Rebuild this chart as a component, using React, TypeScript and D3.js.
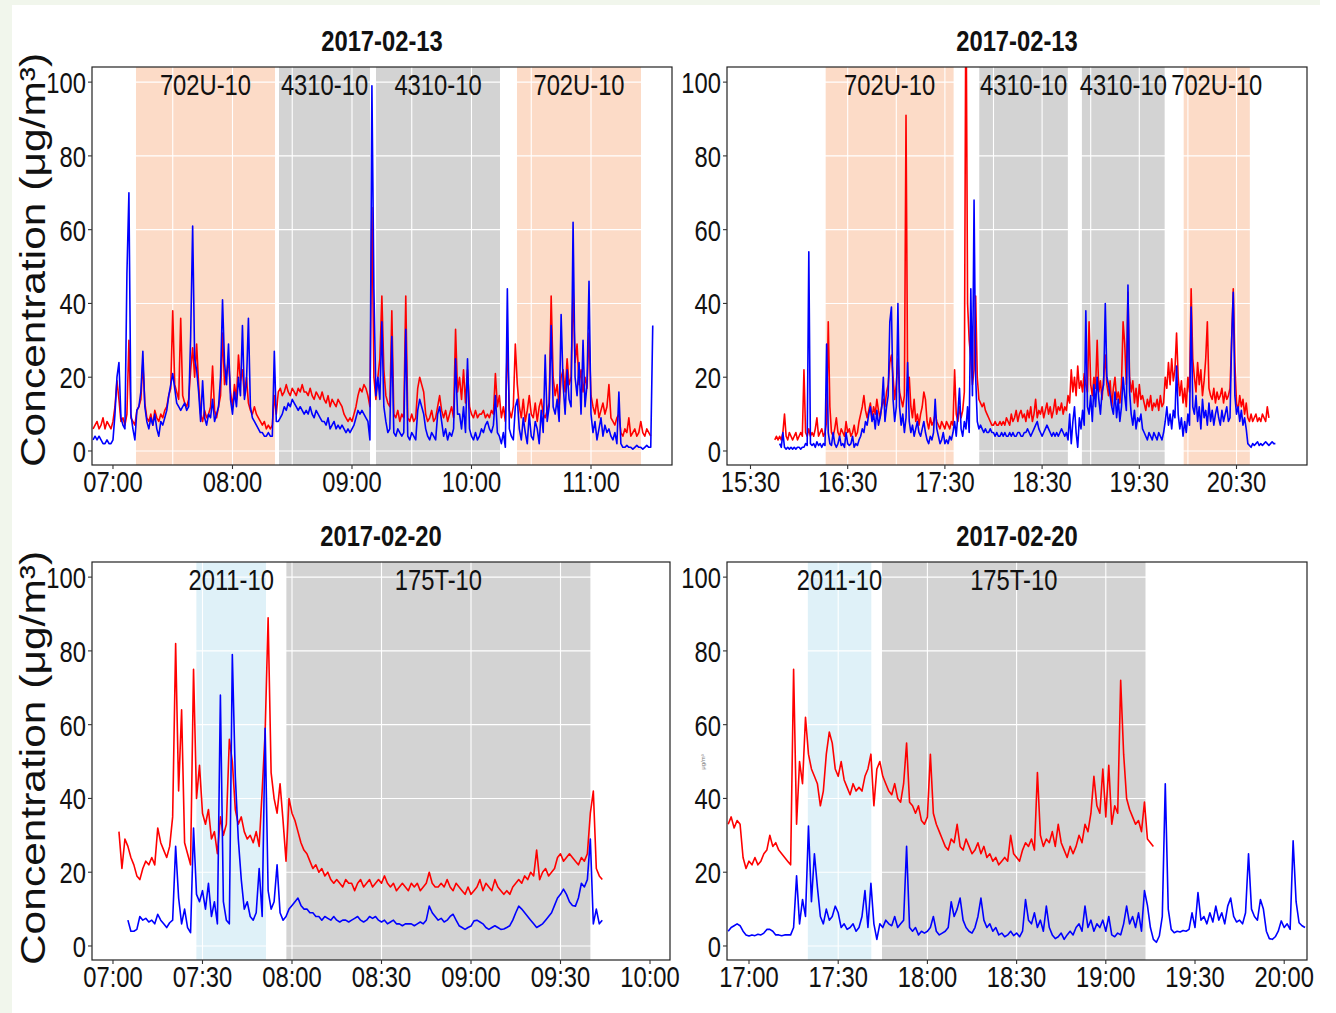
import React from "react";
import * as d3 from "d3";

// ---------------------------------------------------------------------------
// 1-minute concentrations (µg/m³), red = first monitor, blue = second monitor
// ---------------------------------------------------------------------------

// 2017-02-13 morning
const tlRedStart = "06:50";
const tlRed = [
  6, 7, 8, 6, 7, 9, 6, 8, 7, 6, 8,
  12, 19, 14, 8, 9, 7,
  10, 30, 9, 8, 7,
  11, 12, 14, 24, 13,
  9, 8, 10, 7, 11, 9, 8, 10, 9, 11,
  12, 15, 17, 38, 18, 16,
  14, 36, 15, 13, 12, 14,
  22, 28, 20, 29, 18,
  10, 8, 11, 9,
  10, 12, 23, 11, 9, 12, 15,
  32, 18, 21, 25,
  16, 12, 18, 14, 26, 19, 22, 15, 20,
  13, 11, 10, 12,
  10, 9, 8, 7, 8, 6, 7, 6, 7,
  15, 10,
  16, 17, 15, 16, 18, 16, 15, 17, 16, 15, 17, 16, 18, 16,
  16, 15, 17, 15, 14, 16, 15, 14, 16,
  14, 13, 15, 12, 14, 13, 12, 14, 13, 12,
  10, 9, 8, 9, 8, 10,
  12, 15, 17, 16, 18, 17, 15,
  12, 66, 20,
  14, 20, 25, 42, 22, 15,
  13, 12, 38,
  10, 9, 11, 8, 10, 9, 42,
  9, 8, 10, 8, 9,
  17, 20, 18, 16,
  10, 8, 9, 11, 8, 9,
  12, 15, 11,
  9, 11, 8, 10, 12, 9,
  33, 16,
  20, 14, 22, 13,
  22, 12,
  10, 9, 11, 9, 10,
  10, 11, 9, 10, 9, 11, 10,
  21, 12,
  15, 9, 12, 8,
  30, 11, 9, 12,
  29, 18,
  12, 9, 14, 8, 11, 15, 10, 9, 13, 8, 12, 14, 10, 9, 11, 13,
  42, 20,
  15, 18, 12, 20,
  22, 16, 25, 18, 20,
  44, 24,
  29, 18, 22, 16, 20, 17,
  32, 15,
  12, 10, 14, 9, 11, 13, 10, 12,
  18, 9,
  8, 7, 9, 10,
  5, 4, 6, 5, 9, 4, 5, 6, 4, 5, 8, 5, 4, 6, 5,
  4,
];
const tlBlueStart = "06:50";
const tlBlue = [
  3, 4, 3, 4, 3, 2, 2, 3, 2, 2, 3,
  10, 20, 24, 9, 7, 6,
  48, 70, 10, 6, 3,
  11, 12, 16, 27, 12,
  8, 6, 9, 7, 10, 6, 4, 8, 7, 9,
  11, 15, 18, 21, 17, 13,
  12, 11, 12, 13, 11, 12,
  31, 61, 25, 22, 16,
  8, 19, 9, 7,
  10, 9, 14, 8, 10, 12, 20,
  41, 24, 18, 29, 14, 10, 16, 12, 20, 15, 34, 14, 18, 36, 12,
  9, 8, 7, 6, 5, 5, 4, 4, 5, 4, 4,
  27, 8,
  8, 9, 10, 12, 11, 13, 12, 14, 13, 12, 11, 12, 11, 10,
  11, 10, 12, 10, 9, 11, 10, 9, 8,
  8, 7, 9, 6, 7, 8, 6, 7, 6, 7,
  6, 5, 6, 5, 6, 7,
  9, 11, 10, 11, 10, 9, 8,
  3, 99, 44,
  15, 20, 14, 35, 12, 8,
  5, 6, 31,
  5, 4, 6, 5, 4, 5, 33,
  4, 3, 5, 4, 3,
  11, 14, 12, 10,
  6, 4, 3, 5, 4, 3,
  10, 12, 8,
  4, 6, 3, 5, 4, 6,
  25, 10,
  10, 6, 12, 5,
  25, 6,
  4, 3, 5, 3, 4,
  6, 5, 7, 8, 6, 5, 7,
  15, 5,
  4, 2, 5, 1,
  44, 6, 4, 3,
  12, 14,
  6, 3, 9, 5, 2, 10, 4, 3, 8, 6, 2, 11, 5, 26, 8, 12,
  34, 12,
  10, 14, 8, 37,
  18, 10, 22, 14, 12,
  62, 20,
  15, 24, 10, 30, 12, 18,
  46, 10,
  5, 8, 3, 6, 9, 4, 7, 5,
  6, 4,
  3, 5, 2, 16,
  2, 1, 1, 1.5, 1, 1, 0.5, 1, 1.5, 1, 1, 0.5, 1, 1.5, 1,
  1, 34,
];

// 2017-02-13 afternoon / evening
const trRedStart = "15:45";
const trRed = [
  3, 4, 3,
  4, 3, 5, 10, 4, 3, 5, 4, 3, 4, 5, 3, 4, 5, 4,
  22,
  5, 4, 6, 4,
  5, 4, 6, 9, 4, 5, 6, 4, 5,
  8, 35, 12,
  5, 4, 6, 9, 5, 4, 6, 5, 4, 8, 5, 6, 4, 5, 7, 4, 5,
  8, 10, 12, 15, 11, 9,
  11, 13, 9, 12, 10, 14, 11, 9, 12,
  14, 12, 16,
  18, 24, 26, 20, 14, 18, 25, 16, 14, 12, 15,
  91, 18, 20,
  12, 9, 14, 8, 10, 7,
  10, 12, 16, 14,
  8, 6, 9, 7, 8, 10, 8,
  7, 6, 8, 7, 6, 8, 7, 6, 8, 7,
  22, 10,
  8, 12, 9, 11,
  16, 130, 40, 30, 25, 18, 22, 42, 20,
  14, 13, 12, 13, 11, 10, 9, 8, 7,
  7, 8, 7, 7, 8, 7, 8, 7, 9, 8, 7, 10, 8, 9, 11, 8, 10, 11,
  9, 10, 8, 11, 9, 12, 8, 10, 14, 9, 11, 10, 12, 9, 11, 13, 10, 12, 9, 11, 14, 10, 12, 11, 13, 10, 12, 11,
  15, 13,
  22, 16, 20, 15, 23, 17, 19, 16, 21,
  18,
  16, 35, 18, 15, 20, 17, 30, 16, 19, 14, 20,
  26, 18,
  15, 19, 12, 17, 20, 14, 16, 13, 18,
  35, 29, 18, 43, 20,
  16, 19, 13, 17, 12, 18, 14, 15,
  13, 11, 14, 12, 15, 11, 13, 12, 14, 11, 15, 12, 13,
  20, 17, 24, 18, 25, 19, 22,
  32, 20,
  15, 19, 13, 17, 12, 20, 16,
  44, 25,
  20, 16, 24, 18, 22, 15, 19, 25, 35, 17,
  15, 14, 17, 13, 16, 14, 15, 17, 13, 16, 14, 15, 17,
  30, 44, 24,
  13, 11, 15, 12, 14, 10, 13,
  9, 8, 10, 8, 9, 10, 8, 9, 8, 10, 9, 8, 12, 9,
];
const trBlueStart = "15:48";
const trBlue = [
  2, 1, 5, 1, 0.5, 1, 0.5, 1, 0.5, 1, 0.5, 1, 1, 0.5, 1,
  1, 2, 1.5, 54, 2,
  1.5, 2, 1, 2.5, 1.5, 2, 1, 2, 1.5,
  29, 5,
  2, 1.5, 5, 2, 1, 2, 4, 1.5, 2, 1, 5, 2, 1.5, 2, 4, 1, 2, 1.5, 3,
  4, 6, 5, 8, 7, 10,
  12, 8, 10, 6, 11, 7, 9, 12,
  20, 8,
  12, 15, 35, 39, 14,
  8, 12,
  40, 12,
  7, 10, 5, 9,
  24, 8,
  5, 7, 4, 6, 8, 5, 4, 6,
  8, 5,
  3, 2, 4, 3, 5,
  14, 6,
  4, 2, 3, 5, 2, 3, 2, 4, 3, 5,
  8, 4,
  10, 17, 6,
  4, 8, 6, 12, 5,
  44, 15, 68, 20, 8,
  6, 7, 6, 5, 6, 5, 5, 6, 5,
  5, 4, 5, 4, 4, 5, 4, 5, 4, 4, 5, 4, 5, 4, 4, 5, 5, 4,
  4, 5, 5, 6, 5, 4, 5, 6, 7, 8, 6, 5, 4, 5, 6, 7, 6, 5, 4, 5, 4, 5, 4, 5, 6, 5, 4, 5,
  3, 10, 2, 8, 12, 5, 1, 9, 6, 11, 7,
  38, 12,
  10, 15, 8, 18, 12, 20, 14, 10, 16, 18,
  40, 20,
  18, 15, 12, 10, 16, 9, 14, 8, 12, 20, 15, 11,
  45, 16,
  10, 7, 11, 6, 9, 8, 10, 6,
  5, 4, 3, 5, 4, 3, 5, 4, 3, 5, 4, 3, 5,
  8, 12, 7, 10, 6, 11, 9,
  23, 10,
  6, 9, 4, 8, 5, 10, 7,
  39, 12,
  10, 15, 8, 12, 6, 14, 9, 11, 7, 13,
  8, 11, 7, 10, 12, 9, 7, 11, 8, 10, 12, 8, 9,
  30, 43, 15,
  10, 12, 8, 11, 7, 9, 6,
  2, 1.5, 1, 2, 1.5, 2, 2.5, 1.5, 2, 1.5, 2, 2.5, 2, 1.5, 2, 2.5, 2, 2,
];

// 2017-02-20 morning
const blRedStart = "07:02";
const blRed = [
  31, 21, 29, 27, 24, 22, 19, 18, 21, 23, 22, 24, 22, 32, 28, 26, 24, 27, 35,
  82, 42, 64, 28, 25, 22, 75, 40, 49, 36,
  33, 37, 29, 31, 25, 35, 30, 33, 56, 50, 37, 33, 35, 31, 29, 30, 28, 31, 27,
  42, 58, 89, 47, 40, 36, 44, 34, 23, 40, 36, 34, 31, 28, 26, 25, 23, 21, 22, 20, 21, 19, 20, 18,
  17, 18, 17, 16, 18, 17, 17, 15, 17, 18, 16, 17, 18, 16, 17, 18, 17, 19,
  17, 16, 17, 15, 16, 17, 16, 15, 17, 16, 17, 15, 16,
  17, 20, 17, 16,
  16, 17, 16, 18, 16, 15, 17, 16,
  15, 14, 16, 14, 15,
  16, 18, 15, 17, 16, 15, 18, 16,
  15, 14, 15, 14,
  16, 17, 18, 17, 19, 18, 20, 19,
  26, 18,
  20, 21, 19, 20, 21,
  24, 25, 23, 24, 25, 24, 23,
  22, 24, 23, 25,
  36, 42, 21, 19, 18,
];
const blBlueStart = "07:05";
const blBlue = [
  7, 4, 4, 4.5, 8, 7, 7.5, 6.5, 7, 6, 8.6, 7, 6, 5, 6.3, 7,
  27, 13, 6, 10, 5, 3.6, 32, 14, 12, 15, 10, 17, 8, 12, 6,
  68, 12, 7, 6, 79, 46, 29, 18, 10, 12, 8, 7, 9, 21, 8,
  59, 15, 10, 12, 22, 9, 7, 8, 10, 11, 12, 13, 11, 10, 10, 9, 9, 8, 8,
  7, 8, 7.5, 7, 8, 7, 6.5, 7, 7, 6.5,
  7, 7.5, 8, 7, 6.5, 7, 8, 7.5, 8,
  7, 6.5, 7, 6, 6.5, 7, 6, 6, 5.5, 6, 6,
  6, 5.5, 6, 6.5, 6, 7,
  10.8, 9,
  8, 7, 7.5, 6.5, 7, 8, 8.6, 7,
  5.5, 5, 4.5, 5, 5.4,
  6.8, 7, 6.5, 6,
  5, 4.5, 5, 5.5,
  5, 4.5, 4.6, 5, 5.5,
  7, 9, 10.8, 10,
  9, 8, 7, 6, 5, 5.5,
  6, 7, 8, 9,
  11, 13, 14, 15.4,
  14, 12, 11, 10.8,
  13, 17, 16, 18,
  29, 6, 10, 6, 7,
];

// 2017-02-20 afternoon / evening
const brRedStart = "16:53";
const brRed = [
  33, 35, 32, 34, 33,
  24, 21, 23, 22, 24, 22, 23, 25, 26, 30, 27, 28, 26, 25, 24, 23, 22,
  75, 33, 50, 44, 62, 52, 48, 46, 44, 38, 42, 52, 58, 55, 48, 46,
  50, 45, 43, 41, 44, 42, 43, 42, 46, 48, 52, 38, 48, 50, 46, 44, 42, 41, 44, 40,
  39, 44, 55, 39, 38, 36, 38, 34, 33, 35, 52, 36, 33, 31, 29, 27, 26, 29, 28, 33,
  27, 26, 29, 27, 25, 26, 28, 25, 27, 24, 25, 23, 24, 22, 23, 24, 23, 30, 25, 24,
  23, 26, 28, 27, 29, 26, 47, 30, 27, 29, 28, 31, 27, 33, 28, 26, 24, 27, 25, 27,
  30, 28, 33, 31, 36, 46, 38, 36, 48, 35, 49, 33, 38, 36, 72, 52, 40, 37, 35, 33, 34, 31, 39, 29, 28, 27,
];
const brBlueStart = "16:53";
const brBlue = [
  4, 5, 5.5, 6, 5.5, 4, 3,
  2.7, 3, 2.8, 3.2, 3, 3.5, 4.5, 4.5, 4, 3, 3, 2.8, 3, 3, 3,
  5, 19, 6, 12.6, 8, 32.5, 12, 25, 16, 8, 6, 10, 7, 8, 10.8, 9, 5, 6, 4.5, 5, 6, 4, 5, 8, 15, 5,
  17, 6, 1.8, 6, 5, 7, 6, 5.5, 8, 5, 6, 7, 27, 5, 4, 5, 3, 4, 3.5, 4, 5, 8, 4, 3, 3.5, 4, 5, 12, 8, 10,
  13, 7, 5, 4, 3.5, 5, 8, 13, 7, 5, 6, 4, 5, 3, 3.5, 2.5, 3, 4, 2.8, 3.5, 2.5, 4, 12.6, 7, 6, 9, 5, 7, 4, 10.8,
  5, 3, 2, 2.5, 3.5, 1.8, 3, 4, 3, 5, 6, 4, 10.8, 5, 7, 4, 6, 5, 7, 4, 8, 3, 2.5, 3.5, 3, 6, 10.8, 6, 8, 5,
  9, 4, 15, 11, 5, 1.8, 1, 2.7, 8, 44, 10, 4.5, 3.6, 4, 3.8, 4.2, 4, 4.5, 9, 5, 14.5, 7, 8, 6, 9, 6.5, 10.8, 7, 9, 6,
  10.8, 13, 8, 6.5, 7, 6, 9, 25, 10, 8, 7, 12.6, 10, 4, 2, 1.8, 2.5, 4, 6.8, 5, 6, 4.5, 28.5, 12, 6.3, 5.5, 5,
];

// Sampling windows per instrument
const tlZones = [
  { label: "702U-10", from: "07:11:33", to: "08:21:20" },
  { label: "4310-10", from: "08:23:21", to: "09:09:02" },
  { label: "4310-10", from: "09:12:03", to: "10:14:19" },
  { label: "702U-10", from: "10:22:51", to: "11:25:06" },
];
const trZones = [
  { label: "702U-10", from: "16:16:24", to: "17:35:23" },
  { label: "4310-10", from: "17:51:13", to: "18:45:54" },
  { label: "4310-10", from: "18:54:34", to: "19:45:39" },
  { label: "702U-10", from: "19:57:24", to: "20:38:13" },
];
const blZones = [
  { label: "2011-10", from: "07:27:57", to: "07:51:17" },
  { label: "175T-10", from: "07:58:07", to: "09:40:01" },
];
const brZones = [
  { label: "2011-10", from: "17:19:47", to: "17:41:08" },
  { label: "175T-10", from: "17:44:44", to: "19:13:21" },
];

// Axis ticks
const tlTicks = ["07:00", "08:00", "09:00", "10:00", "11:00"];
const tlGrid = ["07:00", "07:30", "08:00", "08:30", "09:00", "09:30", "10:00", "10:30", "11:00", "11:30"];
const trTicks = ["15:30", "16:30", "17:30", "18:30", "19:30", "20:30"];
const trGrid = ["15:30", "16:00", "16:30", "17:00", "17:30", "18:00", "18:30", "19:00", "19:30", "20:00", "20:30", "21:00"];
const blTicks = ["07:00", "07:30", "08:00", "08:30", "09:00", "09:30", "10:00"];
const brTicks = ["17:00", "17:30", "18:00", "18:30", "19:00", "19:30", "20:00"];
const yTicks = [0, 20, 40, 60, 80, 100];
const yDomain = [-3.8, 104.1];

// ---------------------------------------------------------------------------
// Styling / layout
// ---------------------------------------------------------------------------
const FONT = "'Liberation Sans', Arial, Helvetica, sans-serif";
const SQUEEZE = 0.82;
const LINE_W = 1.6;
const zoneFill: Record<string, string> = {
  "702U-10": "#fcdbc7",
  "4310-10": "#d3d3d3",
  "2011-10": "#dff1f8",
  "175T-10": "#d3d3d3",
};

const panels = [
  {
    key: "tl", title: "2017-02-13", date: "2017-02-13",
    box: { x0: 92, y0: 67, x1: 672, y1: 465 },
    domain: ["06:49:28", "11:40:40"],
    ticks: tlTicks, grid: tlGrid, zones: tlZones,
    red: { start: tlRedStart, values: tlRed }, blue: { start: tlBlueStart, values: tlBlue },
  },
  {
    key: "tr", title: "2017-02-13", date: "2017-02-13",
    box: { x0: 727, y0: 67, x1: 1307, y1: 465 },
    domain: ["15:15:30", "21:13:31"],
    ticks: trTicks, grid: trGrid, zones: trZones,
    red: { start: trRedStart, values: trRed }, blue: { start: trBlueStart, values: trBlue },
  },
  {
    key: "bl", title: "2017-02-20", date: "2017-02-20",
    box: { x0: 92, y0: 562, x1: 670, y1: 960 },
    domain: ["06:52:58", "10:06:42"],
    ticks: blTicks, grid: blTicks, zones: blZones,
    red: { start: blRedStart, values: blRed }, blue: { start: blBlueStart, values: blBlue },
  },
  {
    key: "br", title: "2017-02-20", date: "2017-02-20",
    box: { x0: 727, y0: 562, x1: 1307, y1: 960 },
    domain: ["16:52:36", "20:07:40"],
    ticks: brTicks, grid: brTicks, zones: brZones,
    red: { start: brRedStart, values: brRed }, blue: { start: brBlueStart, values: brBlue },
  },
];

const at = (date: string, hm: string) =>
  new Date(`${date}T${hm.length === 5 ? hm + ":00" : hm}`);

type Pt = [Date, number];
const toSeries = (date: string, start: string, values: number[]): Pt[] =>
  values.map((v, i) => [d3.timeMinute.offset(at(date, start), i), v] as Pt);

function Narrow(props: {
  x: number; y: number; anchor?: string; size: number; weight?: number; children: React.ReactNode;
}) {
  const { x, y, anchor = "middle", size, weight = 400, children } = props;
  return (
    <g transform={`translate(${x},${y}) scale(${SQUEEZE},1)`}>
      <text textAnchor={anchor as any} fontSize={size} fontWeight={weight} fontFamily={FONT} fill="#111">
        {children}
      </text>
    </g>
  );
}

function Panel({ p }: { p: (typeof panels)[number] }) {
  const { x0, y0, x1, y1 } = p.box;
  const x = d3.scaleTime().domain(p.domain.map((d) => at(p.date, d))).range([x0, x1]);
  const y = d3.scaleLinear().domain(yDomain).range([y1, y0]);
  const line = d3.line<Pt>().x((d) => x(d[0])).y((d) => y(d[1]));
  const red = toSeries(p.date, p.red.start, p.red.values);
  const blue = toSeries(p.date, p.blue.start, p.blue.values);
  const clipId = `clip-${p.key}`;

  return (
    <g>
      <defs>
        <clipPath id={clipId}>
          <rect x={x0} y={y0} width={x1 - x0} height={y1 - y0} />
        </clipPath>
      </defs>
      <rect x={x0} y={y0} width={x1 - x0} height={y1 - y0} fill="#ffffff" />
      <g clipPath={`url(#${clipId})`}>
        {p.zones.map((z, i) => {
          const a = x(at(p.date, z.from));
          const b = x(at(p.date, z.to));
          return <rect key={i} x={a} y={y0} width={b - a} height={y1 - y0} fill={zoneFill[z.label]} />;
        })}
        {yTicks.map((t) => (
          <line key={`gy${t}`} x1={x0} x2={x1} y1={y(t)} y2={y(t)} stroke="#ffffff" strokeWidth={1.1} />
        ))}
        {p.grid.map((t) => (
          <line key={`gx${t}`} x1={x(at(p.date, t))} x2={x(at(p.date, t))} y1={y0} y2={y1} stroke="#ffffff" strokeWidth={1.1} />
        ))}
        <path d={line(red) ?? ""} fill="none" stroke="#ff0000" strokeWidth={LINE_W} strokeLinejoin="round" />
        <path d={line(blue) ?? ""} fill="none" stroke="#0000ff" strokeWidth={LINE_W} strokeLinejoin="round" />
      </g>
      <rect x={x0} y={y0} width={x1 - x0} height={y1 - y0} fill="none" stroke="#222" strokeWidth={1.2} />

      {yTicks.map((t) => (
        <g key={`yt${t}`}>
          <line x1={x0 - 4} x2={x0} y1={y(t)} y2={y(t)} stroke="#333" strokeWidth={1.1} />
          <Narrow x={x0 - 6} y={y(t) + 11} anchor="end" size={29}>{t}</Narrow>
        </g>
      ))}
      {p.ticks.map((t) => (
        <g key={`xt${t}`}>
          <line x1={x(at(p.date, t))} x2={x(at(p.date, t))} y1={y1} y2={y1 + 4} stroke="#333" strokeWidth={1.1} />
          <Narrow x={x(at(p.date, t))} y={y1 + 27} size={29}>{t}</Narrow>
        </g>
      ))}
      {p.zones.map((z, i) => {
        const c = (x(at(p.date, z.from)) + x(at(p.date, z.to))) / 2;
        return <Narrow key={`zl${i}`} x={c} y={y0 + 27.5} size={29}>{z.label}</Narrow>;
      })}
      <Narrow x={(x0 + x1) / 2} y={y0 - 16} size={29} weight={700}>{p.title}</Narrow>
    </g>
  );
}

export default function App() {
  return (
    <svg
      width={1336}
      height={1013}
      viewBox="0 0 1336 1013"
      style={{ position: "absolute", left: 0, top: 0, display: "block" }}
    >
      <rect x={0} y={0} width={1336} height={1013} fill="#ffffff" />
      <rect x={0} y={0} width={1320} height={5} fill="#f1f6ec" />
      <rect x={0} y={0} width={12} height={1013} fill="#f1f6ec" />
      {panels.map((p) => (
        <Panel key={p.key} p={p} />
      ))}
      {[260, 758].map((cy) => (
        <g key={cy} transform={`translate(45,${cy}) scale(${SQUEEZE},1) rotate(-90)`}>
          <text textAnchor="middle" fontSize={42.5} fontFamily={FONT} fill="#111">
            Concentration (μg/m³)
          </text>
        </g>
      ))}
      <g transform="translate(705,762) rotate(-90)">
        <text textAnchor="middle" fontSize={6} fontFamily={FONT} fill="#777">μg/m³</text>
      </g>
    </svg>
  );
}
